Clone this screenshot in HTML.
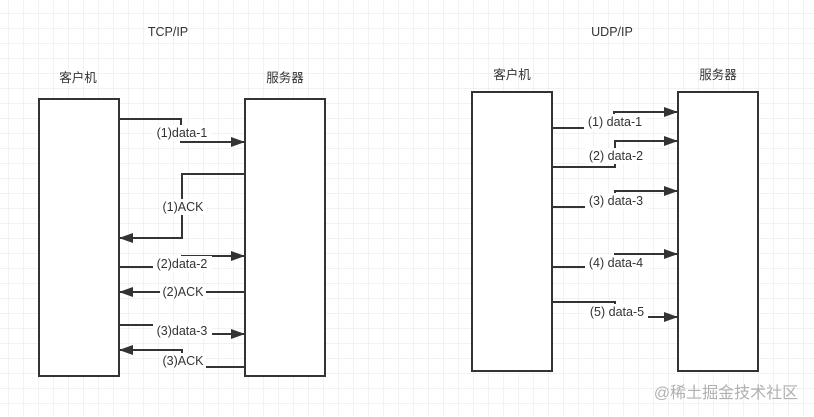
<!DOCTYPE html>
<html><head><meta charset="utf-8"><style>
html,body{margin:0;padding:0;background:#fff;}
svg{display:block;}
text{font-family:"Liberation Sans","Noto Sans CJK SC",sans-serif;fill:#333;font-size:12.5px;}
</style></head><body>
<svg width="814" height="417" viewBox="0 0 814 417" xmlns="http://www.w3.org/2000/svg">
<defs>
<pattern id="g" x="8" y="13" width="15" height="15" patternUnits="userSpaceOnUse">
<path d="M0 0H15M0 0V15" stroke="#e6e6e6" stroke-width="1" fill="none"/>
</pattern>
<marker id="a" markerWidth="14" markerHeight="10" refX="13" refY="5" orient="auto" markerUnits="userSpaceOnUse">
<path d="M0 0L14 5L0 10Z" fill="#333"/>
</marker>
</defs>
<rect width="814" height="417" fill="#fff"/>
<rect width="814" height="417" fill="url(#g)"/>

<text x="168" y="36" text-anchor="middle">TCP/IP</text>
<text x="612" y="36" text-anchor="middle">UDP/IP</text>
<text x="78" y="82" text-anchor="middle">客户机</text>
<text x="285" y="82" text-anchor="middle">服务器</text>
<text x="512" y="79" text-anchor="middle">客户机</text>
<text x="718" y="79" text-anchor="middle">服务器</text>

<g fill="#fff" stroke="#333" stroke-width="2">
<rect x="39" y="99" width="80" height="277"/>
<rect x="245" y="99" width="80" height="277"/>
<rect x="472" y="92" width="80" height="279"/>
<rect x="678" y="92" width="80" height="279"/>
</g>

<g fill="none" stroke="#333" stroke-width="2" marker-end="url(#a)">
<path d="M120 119H181V142H244"/>
<path d="M244 174H182V238H120"/>
<path d="M120 267H182V256H244"/>
<path d="M244 292H120"/>
<path d="M120 325H182V334H244"/>
<path d="M244 367H182V350H120"/>

<path d="M553 128H614V112H677"/>
<path d="M553 167H615V141H677"/>
<path d="M553 207H615V191H677"/>
<path d="M553 267H615V254H677"/>
<path d="M553 302H615V317H677"/>
</g>

<g fill="#fff">
<rect x="153" y="125" width="58" height="16"/>
<rect x="160" y="199" width="46" height="16"/>
<rect x="153" y="256" width="59" height="16"/>
<rect x="160" y="284" width="46" height="16"/>
<rect x="153" y="323" width="59" height="16"/>
<rect x="160" y="353" width="46" height="16"/>
<rect x="584" y="114" width="62" height="16"/>
<rect x="585" y="148" width="62" height="16"/>
<rect x="585" y="193" width="63" height="16"/>
<rect x="585" y="255" width="62" height="16"/>
<rect x="585" y="304" width="63" height="16"/>
</g>
<g text-anchor="middle">
<text x="182" y="137">(1)data-1</text>
<text x="183" y="211">(1)ACK</text>
<text x="182" y="268">(2)data-2</text>
<text x="183" y="296">(2)ACK</text>
<text x="182" y="335">(3)data-3</text>
<text x="183" y="365">(3)ACK</text>
<text x="615" y="126">(1) data-1</text>
<text x="616" y="160">(2) data-2</text>
<text x="616" y="205">(3) data-3</text>
<text x="616" y="267">(4) data-4</text>
<text x="617" y="316">(5) data-5</text>
</g>
<text x="726" y="398" text-anchor="middle" style="font-size:16px;fill:#b0b0b0">@稀土掘金技术社区</text>
</svg>
</body></html>
